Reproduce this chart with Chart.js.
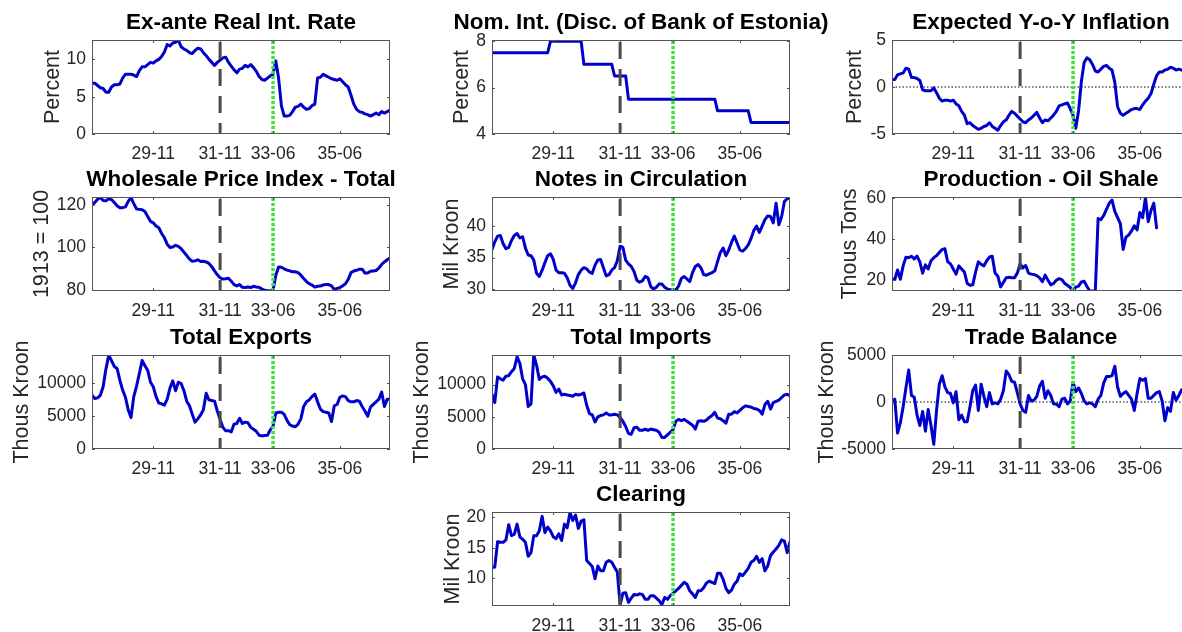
<!DOCTYPE html>
<html>
<head>
<meta charset="utf-8">
<script src="https://cdn.jsdelivr.net/npm/chart.js@4.4.1/dist/chart.umd.min.js"></script>
<style>
  html, body { margin: 0; padding: 0; background: #fff; }
  body { width: 1182px; height: 632px; overflow: hidden; position: relative; }
  canvas { position: absolute; }
</style>
</head>
<body>
<script>
// monthly sample, Jan 1928 .. Dec 1936
const months = [];
for (let y = 28; y <= 36; y++) {
  for (let m = 1; m <= 12; m++) months.push(y + '-' + String(m).padStart(2, '0'));
}
const tickIdx = [22, 46, 65, 89];      // 29-11, 31-11, 33-06, 35-06
const dashedIdx = 46;                  // 31-11
const dottedIdx = 65;                  // 33-06

const realRate = [6.8,6.8,6.5,6.2,6.1,5.6,5.6,6.3,6.6,6.6,
  6.7,7.5,8.0,8.0,8.0,7.9,7.7,8.5,9.0,9.0,
  9.3,9.6,9.5,9.8,10.0,10.4,11.0,12.0,11.8,12.2,
  12.3,12.6,11.7,11.4,11.2,10.9,10.8,11.2,11.5,11.4,
  10.9,10.5,10.0,9.6,9.2,9.6,9.9,10.2,10.3,9.6,
  9.1,8.6,8.2,8.7,8.8,9.2,9.0,9.3,8.9,8.4,
  7.7,7.3,7.2,7.5,7.8,8.0,9.8,7.5,3.8,2.4,
  2.4,2.5,3.0,3.6,3.7,4.0,3.6,3.3,3.4,3.8,
  4.0,7.5,7.6,8.0,7.8,7.6,7.4,7.3,7.2,7.4,
  7.0,6.6,6.3,5.2,4.0,3.3,3.0,2.9,2.7,2.6,
  2.4,2.6,2.8,2.6,3.0,2.8,3.0,3.2];

const nomRate = [7.5,7.5,7.5,7.5,7.5,7.5,7.5,7.5,7.5,7.5,
  7.5,7.5,7.5,7.5,7.5,7.5,7.5,7.5,7.5,7.5,
  7.5,8,8,8,8,8,8,8,8,8,
  8,8,8,7,7,7,7,7,7,7,
  7,7,7,7,6.5,6.5,6.5,6.5,6.5,5.5,
  5.5,5.5,5.5,5.5,5.5,5.5,5.5,5.5,5.5,5.5,
  5.5,5.5,5.5,5.5,5.5,5.5,5.5,5.5,5.5,5.5,
  5.5,5.5,5.5,5.5,5.5,5.5,5.5,5.5,5.5,5.5,
  5.5,5,5,5,5,5,5,5,5,5,
  5,5,5,4.5,4.5,4.5,4.5,4.5,4.5,4.5,
  4.5,4.5,4.5,4.5,4.5,4.5,4.5,4.5];

const expInfl = [0.8,0.8,1.3,1.4,1.5,2.0,1.9,1.0,1.0,0.9,
  0.7,-0.3,-0.4,-0.4,-0.4,-0.1,-0.6,-1.2,-1.5,-1.4,
  -1.4,-1.5,-1.4,-1.8,-2.0,-2.6,-3.0,-3.9,-3.8,-4.1,
  -4.3,-4.5,-4.4,-4.2,-4.1,-3.8,-4.2,-4.4,-4.6,-4.1,
  -3.7,-3.5,-3.0,-2.6,-2.8,-3.1,-3.4,-3.7,-3.8,-3.5,
  -3.3,-3.0,-2.7,-3.3,-3.8,-3.5,-3.6,-3.3,-3.0,-2.6,
  -2.0,-1.9,-1.8,-1.7,-2.3,-3.0,-4.4,-2.5,0.6,2.6,
  3.1,2.9,2.4,1.7,1.6,1.9,2.2,2.3,2.0,1.8,
  0.5,-2.1,-2.8,-3.0,-2.8,-2.6,-2.4,-2.3,-2.3,-2.4,
  -1.9,-1.5,-1.2,-0.7,0.3,1.2,1.6,1.6,1.8,1.9,
  2.1,2.0,1.8,1.9,1.8,1.7,1.8,1.8];

const wpi = [120.0,121.0,122.5,123.4,122.0,121.8,122.8,122.4,121.0,119.5,
  118.6,118.6,119.0,121.5,123.3,120.5,118.0,117.8,117.6,116.8,
  114.5,112.2,111.5,110.0,109.2,106.5,104.5,101.5,100.0,100.2,
  101.0,100.5,99.4,97.8,96.2,94.5,93.5,93.7,94.2,93.4,
  93.5,93.2,92.5,91.0,89.0,87.2,85.8,85.2,85.3,85.6,
  84.2,82.6,82.0,82.6,81.3,81.2,81.5,81.2,81.8,81.5,
  81.3,80.5,80.0,79.7,79.7,79.8,87.0,90.8,90.7,90.0,
  89.4,89.0,88.6,88.6,88.2,87.0,85.5,84.0,83.0,82.4,
  81.4,81.8,81.9,82.4,82.7,82.6,82.0,80.2,80.8,81.2,
  82.0,83.0,85.0,88.2,89.0,89.3,89.8,89.8,88.0,88.0,
  88.8,89.0,89.2,90.3,92.0,93.2,94.2,95.0];

const notes = [36.3,37.5,38.4,38.5,37.2,36.4,36.6,37.7,38.5,38.8,
  38.1,38.3,36.5,35.4,35.3,34.6,32.5,32.0,33.0,34.2,
  35.3,35.6,34.7,33.0,32.6,32.6,32.5,31.8,30.6,30.1,
  31.0,32.3,33.0,33.4,33.2,32.7,32.5,33.8,34.6,34.7,
  33.4,32.1,32.3,33.0,33.4,34.5,36.8,36.6,34.6,34.0,
  33.6,32.8,31.4,31.1,31.3,32.0,31.8,30.4,30.0,30.3,
  30.8,30.8,30.3,30.0,29.9,29.9,29.8,30.5,31.7,32.0,
  31.6,31.2,32.6,33.6,33.9,33.4,32.3,32.2,32.4,32.6,
  32.9,34.4,35.8,36.5,35.3,36.2,37.4,38.4,37.3,36.2,
  36.0,36.4,37.0,38.0,39.3,40.0,39.0,40.0,41.0,41.6,
  41.5,40.5,43.6,40.2,41.5,43.9,44.3,44.5];

// series ends in Dec 1935
const oilShale = [20.6,20.4,25.0,20.5,27.0,31.2,31.0,31.7,30.4,31.8,
  29.0,23.5,27.5,25.5,29.5,31.0,32.0,33.5,35.0,35.3,
  29.0,28.0,25.5,23.0,27.0,25.5,24.0,18.5,17.6,17.8,
  24.0,29.0,27.8,27.0,29.5,31.3,31.7,23.5,22.0,16.8,
  19.0,21.2,21.5,21.2,21.3,23.5,28.0,26.0,27.2,23.5,
  23.0,22.8,22.3,21.2,19.3,22.5,20.0,17.8,18.5,20.0,
  20.8,20.3,18.5,17.6,16.5,15.0,16.7,17.2,19.2,19.5,
  17.0,14.8,14.8,14.8,50.0,49.5,51.5,54.5,57.5,59.0,
  53.5,50.5,47.5,35.0,41.0,42.0,44.0,46.5,44.5,53.0,
  50.5,60.3,48.5,54.0,57.5,45.5];

const exports_ = [8200,7700,7800,8200,9500,12200,14300,13500,12600,12300,
  10500,9000,7900,6000,4800,8000,9600,11500,13500,12700,
  12000,10200,9500,8000,7000,6900,6700,7600,9300,10400,
  8900,10200,10000,8900,7300,6600,5300,4100,4600,5200,
  6000,8500,7500,7400,7300,5800,4500,3300,2800,2800,
  2600,3800,3900,4700,3900,4100,4000,3300,3000,2700,
  2100,2000,2050,2100,2900,3500,5500,5600,5600,5300,
  4400,3700,3500,3400,3800,4600,6500,7200,7500,8000,
  8400,7200,6100,5700,5600,5500,4200,6600,6800,7900,
  8100,8000,7400,7200,7200,7400,7300,6500,5800,5000,
  6400,6800,7200,7600,8700,6500,7600,7600];

const imports_ = [8500,7200,11200,10900,10700,11300,11400,12000,12500,14300,
  13300,10900,10000,6600,7000,14600,13000,10800,11200,11300,
  11000,10500,9800,8800,9300,8400,8500,8400,8300,8200,
  8500,8400,8500,8700,6800,5500,5300,4200,5000,5200,
  5300,5600,5300,5300,5400,5300,4900,4300,3500,2400,
  2300,3300,3400,2900,2900,3100,2900,3100,3000,2900,
  2600,1800,1800,2200,2600,3000,4300,4600,4400,4600,
  4300,4000,3700,3100,4300,4400,4300,4500,4900,5200,
  5700,4800,4700,4400,4000,5400,5400,5800,5600,6000,
  6400,6700,6600,6500,6300,6200,6000,5400,6900,7400,
  6200,7200,7400,7600,8000,8400,8500,8300];

const tradeBal = [-100,300,-3300,-2200,-500,1500,3400,700,500,-1400,
  -2500,-1000,-3100,-800,-2500,-4500,-900,1900,2800,1600,
  1000,900,-100,1100,-1900,-1400,-2100,-2100,-500,1200,
  1800,-900,1900,600,-500,1000,-200,-100,-200,300,
  1200,3300,2900,2200,2100,1000,-200,-900,-1100,700,
  100,200,600,1700,2200,400,1200,700,-200,-200,
  -500,300,400,-200,100,2100,1100,1500,900,100,
  -200,-100,-200,-500,300,700,2000,2700,2700,2800,
  3800,1600,600,900,1100,700,300,-900,900,2500,
  2300,2500,400,400,700,1000,1100,100,-2000,-600,
  -1000,1000,200,700,1300,900,600,1000];

const clearing = [11.8,11.8,16.0,15.9,15.9,16.3,18.8,17.0,17.2,18.9,
  16.8,16.4,15.9,13.6,14.2,17.0,17.0,17.8,20.2,17.5,
  18.4,17.8,16.8,16.5,17.3,16.2,18.9,18.3,20.8,19.5,
  20.4,18.2,19.4,19.6,12.9,12.4,11.9,9.9,12.0,11.2,
  11.2,12.6,12.9,12.6,11.8,11.0,5.6,7.5,7.6,6.0,
  6.7,7.3,7.2,7.4,7.3,6.5,6.5,7.1,7.1,6.7,
  6.3,5.6,6.8,6.5,7.1,7.5,7.9,8.3,8.8,9.3,
  9.0,7.9,7.4,6.8,7.9,7.9,8.4,9.2,9.5,9.3,
  9.1,10.8,10.8,9.8,8.3,7.6,8.0,9.0,9.5,10.7,
  10.4,11.0,11.6,12.6,12.9,13.6,12.6,13.2,11.2,12.0,
  13.7,14.3,14.8,15.4,16.3,16.1,14.2,16.0];

const FONT = '"Liberation Sans", Arial, Helvetica, sans-serif';
const AXIS_COLOR = '#262626';
const colLeft = [92, 492, 892];
const rowTop = [40, 197, 355, 512];
const PLOT_W = 298, PLOT_H = 94, LEFT = 92, TOP = 40, BOTTOM = 30;

const panels = [
  { title: 'Ex-ante Real Int. Rate', ylabel: 'Percent', data: realRate, min: 0, max: 12.6, ticks: [0, 5, 10], col: 0, row: 0, labelPad: 40 },
  { title: 'Nom. Int. (Disc. of Bank of Estonia)', ylabel: 'Percent', data: nomRate, min: 4, max: 8.05, ticks: [4, 6, 8], col: 1, row: 0, labelPad: 49 },
  { title: 'Expected Y-o-Y Inflation', ylabel: 'Percent', data: expInfl, min: -5, max: 5, ticks: [-5, 0, 5], col: 2, row: 0, labelPad: 42, zero: true },
  { title: 'Wholesale Price Index - Total', ylabel: '1913 = 100', data: wpi, min: 79.6, max: 123.6, ticks: [80, 100, 120], col: 0, row: 1, labelPad: 29 },
  { title: 'Notes in Circulation', ylabel: 'Mil Kroon', data: notes, min: 29.7, max: 44.6, ticks: [30, 35, 40], col: 1, row: 1, labelPad: 39 },
  { title: 'Production - Oil Shale', ylabel: 'Thous Tons', data: oilShale, min: 14.8, max: 60.5, ticks: [20, 40, 60], col: 2, row: 1, labelPad: 37 },
  { title: 'Total Exports', ylabel: 'Thous Kroon', data: exports_, min: 0, max: 14350, ticks: [0, 5000, 10000], col: 0, row: 2, labelPad: 9 },
  { title: 'Total Imports', ylabel: 'Thous Kroon', data: imports_, min: 0, max: 14600, ticks: [0, 5000, 10000], col: 1, row: 2, labelPad: 9 },
  { title: 'Trade Balance', ylabel: 'Thous Kroon', data: tradeBal, min: -5000, max: 5000, ticks: [-5000, 0, 5000], col: 2, row: 2, labelPad: 14, zero: true },
  { title: 'Clearing', ylabel: 'Mil Kroon', data: clearing, min: 5.4, max: 20.9, ticks: [10, 15, 20], col: 1, row: 3, labelPad: 40 }
];

// Matlab-style box with inward tick marks
const boxPlugin = {
  id: 'box',
  afterDatasetsDraw(chart) {
    const { ctx, chartArea: a, scales: { x, y } } = chart;
    ctx.save();
    ctx.strokeStyle = '#555';
    ctx.lineWidth = 1;
    ctx.strokeRect(Math.round(a.left) + 0.5, Math.round(a.top) + 0.5,
      Math.round(a.width) - 1, Math.round(a.height) - 1);
    ctx.beginPath();
    x.ticks.forEach(t => {
      const px = Math.round(x.getPixelForValue(t.value)) + 0.5;
      ctx.moveTo(px, a.bottom); ctx.lineTo(px, a.bottom - 3);
      ctx.moveTo(px, a.top); ctx.lineTo(px, a.top + 3);
    });
    y.ticks.forEach(t => {
      const py = Math.round(y.getPixelForValue(t.value)) + 0.5;
      ctx.moveTo(a.left, py); ctx.lineTo(a.left + 3, py);
      ctx.moveTo(a.right, py); ctx.lineTo(a.right - 3, py);
    });
    ctx.stroke();
    ctx.restore();
  }
};

panels.forEach(p => {
  const cv = document.createElement('canvas');
  cv.width = LEFT + PLOT_W + LEFT;
  cv.height = TOP + PLOT_H + BOTTOM;
  cv.style.left = (colLeft[p.col] - LEFT) + 'px';
  cv.style.top = (rowTop[p.row] - TOP) + 'px';
  document.body.appendChild(cv);

  const datasets = [
    { data: [{ x: dashedIdx, y: p.min }, { x: dashedIdx, y: p.max }], borderColor: '#4a4a4a', borderWidth: 3,
      borderDash: [17, 10], borderDashOffset: 6, order: 0 },
    { data: [{ x: dottedIdx, y: p.min }, { x: dottedIdx, y: p.max }], borderColor: 'rgb(60,228,60)', borderWidth: 3.5,
      borderDash: [3, 2], order: 0 },
    { data: p.data.map((v, i) => ({ x: i, y: v })), borderColor: '#0000cc', borderWidth: 3,
      borderJoinStyle: 'round', borderCapStyle: 'round', order: 1 }
  ];
  if (p.zero) {
    datasets.push({ data: [{ x: 0, y: 0 }, { x: months.length - 1, y: 0 }], borderColor: '#000', borderWidth: 1,
      borderDash: [1.5, 2], order: 2 });
  }

  new Chart(cv.getContext('2d'), {
    type: 'line',
    data: { datasets },
    options: {
      responsive: false,
      animation: false,
      events: [],
      elements: { point: { radius: 0 }, line: { tension: 0 } },
      layout: { padding: 0 },
      plugins: {
        legend: { display: false },
        tooltip: { enabled: false },
        title: {
          display: true, text: p.title, color: '#000',
          font: { family: FONT, size: 22.5, weight: 'bold', lineHeight: 1.2 },
          padding: { top: 9, bottom: 4 }
        }
      },
      scales: {
        x: {
          type: 'linear', min: 0, max: months.length - 1,
          grid: { display: false, drawTicks: false }, border: { display: false },
          afterBuildTicks: s => { s.ticks = tickIdx.map(v => ({ value: v })); },
          afterFit: s => { s.height = BOTTOM; },
          ticks: { autoSkip: false, maxRotation: 0, padding: 10, color: AXIS_COLOR,
            font: { family: FONT, size: 17.5 }, callback: v => months[v] }
        },
        y: {
          min: p.min, max: p.max,
          grid: { display: false, drawTicks: false }, border: { display: false },
          afterBuildTicks: s => { s.ticks = p.ticks.map(v => ({ value: v })); },
          afterFit: s => { s.width = LEFT; },
          ticks: { padding: 6, color: AXIS_COLOR, font: { family: FONT, size: 17.5 }, callback: v => String(v) },
          title: { display: true, text: p.ylabel, color: AXIS_COLOR,
            font: { family: FONT, size: 21.5, lineHeight: 1.2 }, padding: { top: p.labelPad, bottom: 0 } }
        },
        // empty right-hand spacer so the title centres over the plot
        yRight: {
          position: 'right', min: 0, max: 1,
          grid: { display: false, drawTicks: false }, border: { display: false },
          ticks: { display: false },
          afterFit: s => { s.width = LEFT; }
        }
      }
    },
    plugins: [boxPlugin]
  });
});
</script>
</body>
</html>
